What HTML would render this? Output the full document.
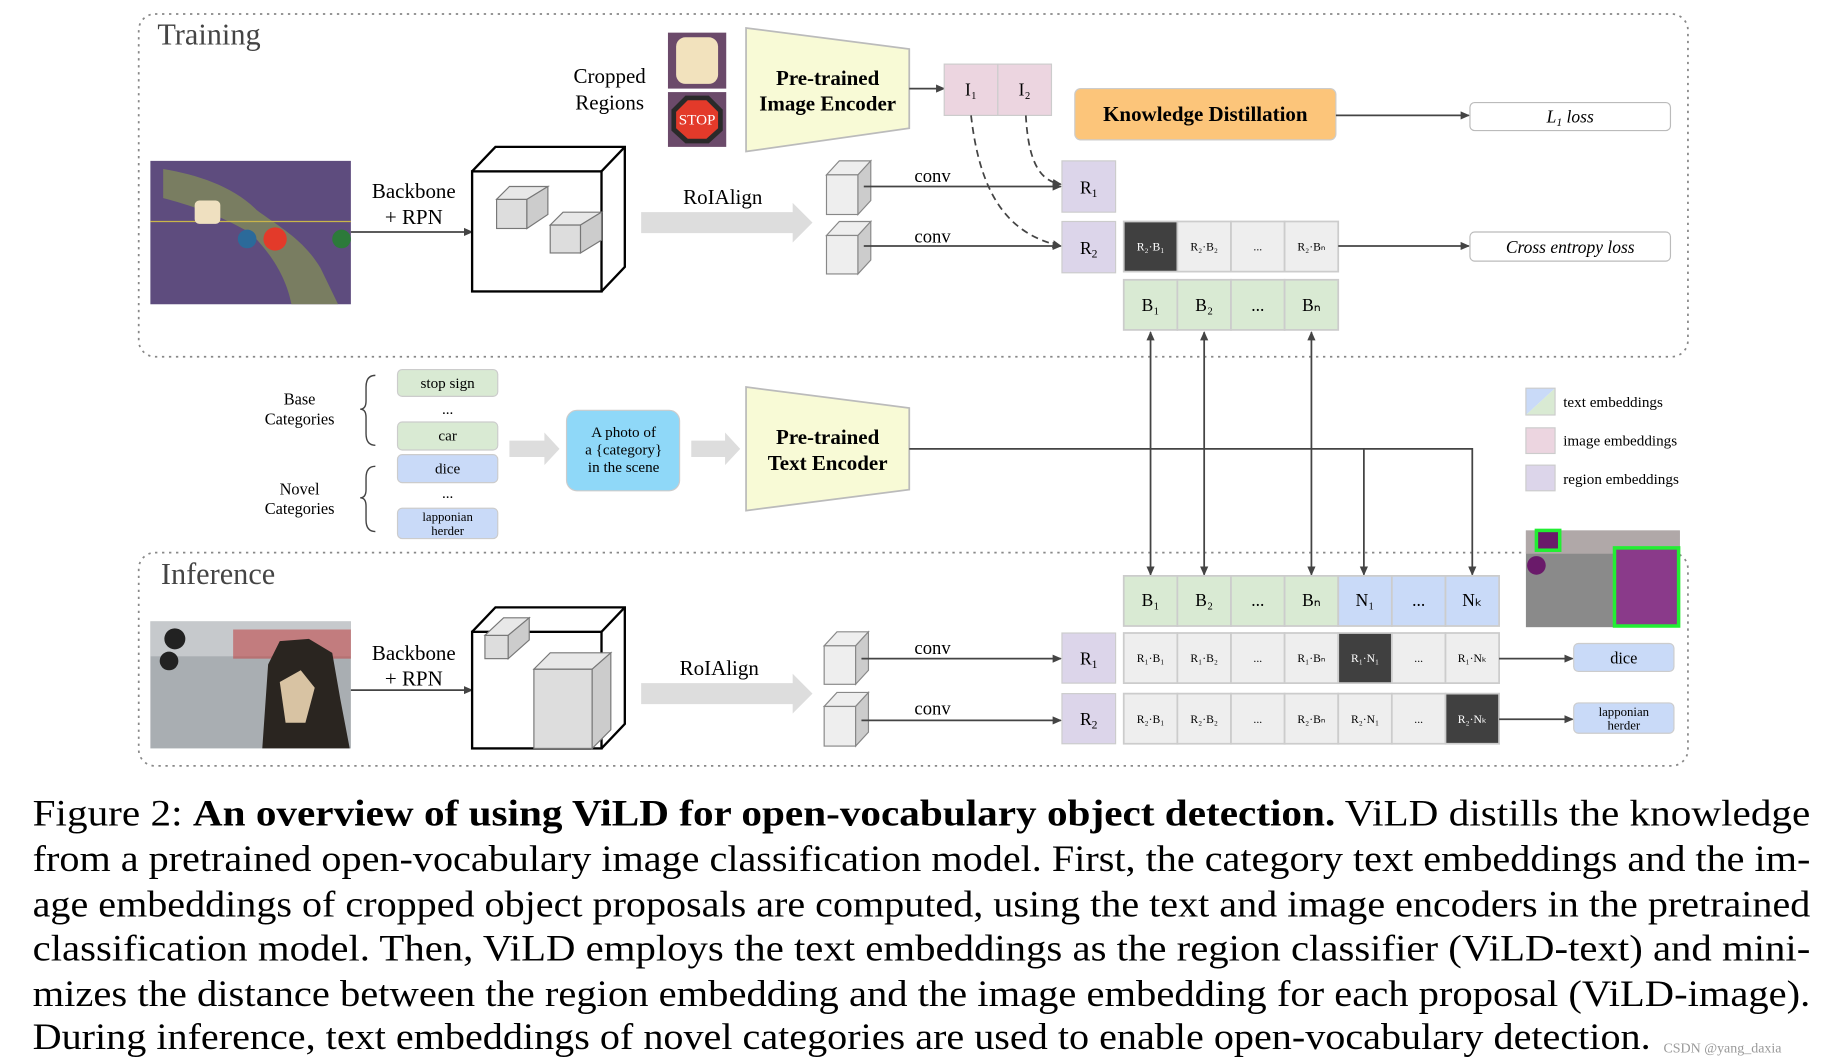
<!DOCTYPE html>
<html><head><meta charset="utf-8"><style>
html,body{margin:0;padding:0;background:#fff;}
svg{display:block;}
text{font-family:"Liberation Serif",serif;}
</style></head><body>
<svg width="1822" height="1062" viewBox="0 0 1563 911" preserveAspectRatio="none" xmlns="http://www.w3.org/2000/svg">
<defs>
<marker id="ah" markerWidth="8" markerHeight="8" refX="7" refY="4" orient="auto" markerUnits="userSpaceOnUse"><path d="M0,0.5 L8,4 L0,7.5 z" fill="#444"/></marker>
<marker id="ahs" markerWidth="8" markerHeight="8" refX="1" refY="4" orient="auto" markerUnits="userSpaceOnUse"><path d="M8,0.5 L0,4 L8,7.5 z" fill="#444"/></marker>
</defs>
<rect x="119" y="12" width="1329" height="294" rx="14" fill="none" stroke="#888" stroke-width="1.5" stroke-dasharray="2,4"/>
<rect x="119" y="474" width="1329" height="183" rx="14" fill="none" stroke="#888" stroke-width="1.5" stroke-dasharray="2,4"/>
<text x="135" y="38" font-size="26" fill="#444">Training</text>
<text x="138" y="501" font-size="26" fill="#444">Inference</text>

<text x="523" y="71" font-size="18" text-anchor="middle">Cropped</text>
<text x="523" y="94" font-size="18" text-anchor="middle">Regions</text>
<rect x="573" y="28" width="50" height="48" fill="#6b4a6a"/>
<rect x="580" y="32" width="36" height="40" rx="8" fill="#f2e2bd"/>
<rect x="573" y="79" width="50" height="47" fill="#6b4a6a"/>
<polygon points="588,82 608,82 620,94 620,112 608,123 588,123 576,112 576,94" fill="#2a2a2a"/>
<polygon points="590,86 606,86 616,96 616,110 606,119 590,119 580,110 580,96" fill="#e33a2a"/>
<text x="598" y="107" font-size="13" fill="#fff" text-anchor="middle" font-family="Liberation Sans">STOP</text>
<polygon points="640,24 780,42 780,110 640,130" fill="#f8fad6" stroke="#bbb" stroke-width="1.5"/>
<text x="710" y="73" font-size="18" font-weight="bold" text-anchor="middle">Pre-trained</text>
<text x="710" y="95" font-size="18" font-weight="bold" text-anchor="middle">Image Encoder</text>
<line x1="780" y1="76" x2="810" y2="76" stroke="#444" stroke-width="1.5" marker-end="url(#ah)"/>
<rect x="810" y="55" width="46" height="44" fill="#ecd5e0" stroke="#ccc"/>
<rect x="856" y="55" width="46" height="44" fill="#ecd5e0" stroke="#ccc"/>
<text x="833" y="82" font-size="15" text-anchor="middle">I₁</text>
<text x="879" y="82" font-size="15" text-anchor="middle">I₂</text>
<rect x="922" y="76" width="224" height="44" rx="5" fill="#fcc57a" stroke="#ccc"/>
<text x="1034" y="104" font-size="18" font-weight="bold" text-anchor="middle">Knowledge Distillation</text>
<line x1="1146" y1="99" x2="1260" y2="99" stroke="#444" stroke-width="1.5" marker-end="url(#ah)"/>
<rect x="1261" y="88" width="172" height="24" rx="4" fill="#fff" stroke="#bbb"/>
<text x="1347" y="105" font-size="15" font-style="italic" text-anchor="middle">L<tspan font-size="10" dy="3">1</tspan><tspan dy="-3"> loss</tspan></text>

<rect x="129" y="138" width="172" height="123" fill="#5e4c7e"/>
<path d="M140,145 C170,150 200,160 220,180 C240,195 260,205 275,230 L290,261 L250,261 C245,235 230,215 215,200 C190,185 160,175 140,170 z" fill="#7f8a5a" opacity="0.8"/>
<line x1="129" y1="190" x2="301" y2="190" stroke="#c9b54a" stroke-width="1"/>
<rect x="167" y="172" width="22" height="20" rx="4" fill="#efe0c0"/>
<circle cx="212" cy="205" r="8" fill="#2b6a9a"/>
<circle cx="236" cy="205" r="10" fill="#e33a2a"/>
<circle cx="293" cy="205" r="8" fill="#2c7a3a"/>
<text x="355" y="170" font-size="18" text-anchor="middle">Backbone</text>
<text x="355" y="192" font-size="18" text-anchor="middle">+ RPN</text>
<line x1="301" y1="199" x2="405" y2="199" stroke="#444" stroke-width="1.5" marker-end="url(#ah)"/>
<g fill="none" stroke="#000" stroke-width="2">
<rect x="405" y="147" width="111" height="103" fill="#fff"/>
<polyline points="405,147 425,126 536,126 536,229 516,250"/>
<line x1="516" y1="147" x2="536" y2="126"/>
</g>
<g stroke="#777" stroke-width="1">
<rect x="426" y="171" width="26" height="25" fill="#ddd"/><polygon points="426,171 437,160 470,160 452,171" fill="#e8e8e8"/><polygon points="452,171 470,160 470,184 452,196" fill="#ccc"/>
<rect x="472" y="193" width="26" height="24" fill="#ddd"/><polygon points="472,193 483,182 516,182 498,193" fill="#e8e8e8"/><polygon points="498,193 516,182 516,206 498,217" fill="#ccc"/>
</g>
<text x="620" y="175" font-size="18" text-anchor="middle">RoIAlign</text>
<polygon points="550,182 680,182 680,174 697,191 680,208 680,200 550,200" fill="#ddd"/>
<g stroke="#888" stroke-width="1">
<polygon points="709,150 720,138 747,138 736,150" fill="#eee"/><rect x="709" y="150" width="27" height="34" fill="#eee"/><polygon points="736,150 747,138 747,172 736,184" fill="#ccc"/>
<polygon points="709,202 720,190 747,190 736,202" fill="#eee"/><rect x="709" y="202" width="27" height="33" fill="#eee"/><polygon points="736,202 747,190 747,223 736,235" fill="#ccc"/>
</g>
<text x="800" y="156" font-size="16" text-anchor="middle">conv</text>
<text x="800" y="208" font-size="16" text-anchor="middle">conv</text>
<line x1="741" y1="160" x2="910" y2="160" stroke="#444" stroke-width="1.5" marker-end="url(#ah)"/>
<line x1="741" y1="211" x2="910" y2="211" stroke="#444" stroke-width="1.5" marker-end="url(#ah)"/>
<path d="M833,99 C840,160 860,200 910,211" fill="none" stroke="#444" stroke-width="1.5" stroke-dasharray="6,4" marker-end="url(#ah)"/>
<path d="M880,99 C882,135 890,155 910,158" fill="none" stroke="#444" stroke-width="1.5" stroke-dasharray="6,4" marker-end="url(#ah)"/>
<rect x="911" y="138" width="46" height="44" fill="#dcd5ea" stroke="#ccc"/>
<rect x="911" y="190" width="46" height="44" fill="#dcd5ea" stroke="#ccc"/>
<text x="934" y="166" font-size="15" text-anchor="middle">R<tspan font-size="10" dy="3">1</tspan></text>
<text x="934" y="218" font-size="15" text-anchor="middle">R<tspan font-size="10" dy="3">2</tspan></text>
<g stroke="#ccc" stroke-width="1.5">
<rect x="964" y="190" width="46" height="43" fill="#404040"/>
<rect x="1010" y="190" width="46" height="43" fill="#eee"/>
<rect x="1056" y="190" width="46" height="43" fill="#eee"/>
<rect x="1102" y="190" width="46" height="43" fill="#eee"/>
</g>
<g font-size="10" text-anchor="middle">
<text x="987" y="215" fill="#fff">R₂·B₁</text><text x="1033" y="215">R₂·B₂</text><text x="1079" y="215">...</text><text x="1125" y="215">R₂·Bₙ</text>
</g>
<line x1="1148" y1="211" x2="1260" y2="211" stroke="#444" stroke-width="1.5" marker-end="url(#ah)"/>
<rect x="1261" y="199" width="172" height="25" rx="4" fill="#fff" stroke="#bbb"/>
<text x="1347" y="217" font-size="15" font-style="italic" text-anchor="middle">Cross entropy loss</text>
<g stroke="#ccc" stroke-width="1.5" fill="#d9ead3">
<rect x="964" y="240" width="46" height="43"/><rect x="1010" y="240" width="46" height="43"/><rect x="1056" y="240" width="46" height="43"/><rect x="1102" y="240" width="46" height="43"/>
</g>
<g font-size="15" text-anchor="middle">
<text x="987" y="267">B₁</text><text x="1033" y="267">B₂</text><text x="1079" y="267">...</text><text x="1125" y="267">Bₙ</text>
</g>

<text x="257" y="347" font-size="14" text-anchor="middle">Base</text>
<text x="257" y="364" font-size="14" text-anchor="middle">Categories</text>
<text x="257" y="424" font-size="14" text-anchor="middle">Novel</text>
<text x="257" y="441" font-size="14" text-anchor="middle">Categories</text>
<path d="M322,322 Q314,322 314,332 L314,344 Q314,351 309,351 Q314,351 314,358 L314,372 Q314,382 322,382" fill="none" stroke="#444" stroke-width="1.2"/>
<path d="M322,400 Q314,400 314,410 L314,420 Q314,427 309,427 Q314,427 314,434 L314,446 Q314,456 322,456" fill="none" stroke="#444" stroke-width="1.2"/>
<g stroke="#ccc" stroke-width="1">
<rect x="341" y="317" width="86" height="23" rx="4" fill="#d9ead3"/>
<rect x="341" y="362" width="86" height="24" rx="4" fill="#d9ead3"/>
<rect x="341" y="390" width="86" height="24" rx="4" fill="#c9daf8"/>
<rect x="341" y="436" width="86" height="26" rx="4" fill="#c9daf8"/>
</g>
<g font-size="13" text-anchor="middle">
<text x="384" y="333">stop sign</text><text x="384" y="355">...</text><text x="384" y="378">car</text><text x="384" y="406">dice</text><text x="384" y="427">...</text>
<text x="384" y="447" font-size="11">lapponian</text><text x="384" y="459" font-size="11">herder</text>
</g>
<polygon points="437,378 467,378 467,371 480,385 467,399 467,392 437,392" fill="#ddd"/>
<rect x="486" y="352" width="97" height="69" rx="9" fill="#8fd8f8" stroke="#ccc"/>
<g font-size="13" text-anchor="middle"><text x="535" y="375">A photo of</text><text x="535" y="390">a {category}</text><text x="535" y="405">in the scene</text></g>
<polygon points="593,378 622,378 622,371 635,385 622,399 622,392 593,392" fill="#ddd"/>
<polygon points="640,332 780,350 780,420 640,438" fill="#f8fad6" stroke="#bbb" stroke-width="1.5"/>
<text x="710" y="381" font-size="18" font-weight="bold" text-anchor="middle">Pre-trained</text>
<text x="710" y="403" font-size="18" font-weight="bold" text-anchor="middle">Text Encoder</text>
<polyline points="780,385 1263,385 1263,493" fill="none" stroke="#444" stroke-width="1.5" marker-end="url(#ah)"/>
<line x1="1170" y1="385" x2="1170" y2="493" stroke="#444" stroke-width="1.5" marker-end="url(#ah)"/>
<g stroke="#444" stroke-width="1.5" marker-end="url(#ah)" marker-start="url(#ahs)">
<line x1="987" y1="285" x2="987" y2="493"/><line x1="1033" y1="285" x2="1033" y2="493"/><line x1="1125" y1="285" x2="1125" y2="493"/>
</g>
<polygon points="1309,333 1334,333 1309,356" fill="#c9daf8"/><polygon points="1334,333 1334,356 1309,356" fill="#d9ead3"/>
<rect x="1309" y="333" width="25" height="23" fill="none" stroke="#ccc"/>
<rect x="1309" y="367" width="25" height="22" fill="#ecd5e0" stroke="#ccc"/>
<rect x="1309" y="399" width="25" height="22" fill="#dcd5ea" stroke="#ccc"/>
<g font-size="13"><text x="1341" y="349">text embeddings</text><text x="1341" y="382">image embeddings</text><text x="1341" y="415">region embeddings</text></g>
<rect x="1309" y="455" width="132" height="83" fill="#8a8a8a"/>
<rect x="1309" y="455" width="132" height="20" fill="#b0a8a8"/>
<rect x="1318" y="455" width="20" height="17" fill="#6a1a6a" stroke="#22ee33" stroke-width="3"/>
<rect x="1385" y="470" width="55" height="67" fill="#8a3a8a" stroke="#22ee33" stroke-width="3"/>
<circle cx="1318" cy="485" r="8" fill="#6a1a6a"/>

<rect x="129" y="533" width="172" height="109" fill="#a9aeb2"/>
<rect x="129" y="533" width="172" height="30" fill="#c6c9cc"/>
<rect x="200" y="540" width="101" height="25" fill="#c04a4a" opacity="0.6"/>
<path d="M225,642 L230,570 L240,550 L265,548 L285,560 L292,600 L300,642 z" fill="#2a2520"/>
<path d="M240,585 L258,575 L270,590 L262,620 L245,620 z" fill="#d8c3a3"/>
<circle cx="150" cy="548" r="9" fill="#222"/><circle cx="145" cy="567" r="8" fill="#222"/>
<text x="355" y="566" font-size="18" text-anchor="middle">Backbone</text>
<text x="355" y="588" font-size="18" text-anchor="middle">+ RPN</text>
<line x1="301" y1="592" x2="405" y2="592" stroke="#444" stroke-width="1.5" marker-end="url(#ah)"/>
<g fill="none" stroke="#000" stroke-width="2">
<rect x="405" y="542" width="111" height="100" fill="#fff"/>
<polyline points="405,542 425,521 536,521 536,621 516,642"/>
<line x1="516" y1="542" x2="536" y2="521"/>
</g>
<g stroke="#777" stroke-width="1">
<rect x="416" y="545" width="20" height="20" fill="#ddd"/><polygon points="416,545 432,530 454,530 436,545" fill="#e8e8e8"/><polygon points="436,545 454,530 454,549 436,565" fill="#ccc"/>
<rect x="458" y="574" width="50" height="68" fill="#ddd"/><polygon points="458,574 472,560 524,560 508,574" fill="#e8e8e8"/><polygon points="508,574 524,560 524,626 508,642" fill="#ccc"/>
</g>
<text x="617" y="579" font-size="18" text-anchor="middle">RoIAlign</text>
<polygon points="550,586 680,586 680,578 697,595 680,612 680,604 550,604" fill="#ddd"/>
<g stroke="#888" stroke-width="1">
<polygon points="707,554 718,542 745,542 734,554" fill="#eee"/><rect x="707" y="554" width="27" height="33" fill="#eee"/><polygon points="734,554 745,542 745,575 734,587" fill="#ccc"/>
<polygon points="707,606 718,594 745,594 734,606" fill="#eee"/><rect x="707" y="606" width="27" height="34" fill="#eee"/><polygon points="734,606 745,594 745,628 734,640" fill="#ccc"/>
</g>
<text x="800" y="561" font-size="16" text-anchor="middle">conv</text>
<text x="800" y="613" font-size="16" text-anchor="middle">conv</text>
<line x1="739" y1="565" x2="910" y2="565" stroke="#444" stroke-width="1.5" marker-end="url(#ah)"/>
<line x1="739" y1="618" x2="910" y2="618" stroke="#444" stroke-width="1.5" marker-end="url(#ah)"/>
<rect x="911" y="543" width="46" height="43" fill="#dcd5ea" stroke="#ccc"/>
<rect x="911" y="595" width="46" height="43" fill="#dcd5ea" stroke="#ccc"/>
<text x="934" y="570" font-size="15" text-anchor="middle">R<tspan font-size="10" dy="3">1</tspan></text>
<text x="934" y="622" font-size="15" text-anchor="middle">R<tspan font-size="10" dy="3">2</tspan></text>
<g stroke="#ccc" stroke-width="1.5">
<rect x="964" y="494" width="46" height="43" fill="#d9ead3"/><rect x="1010" y="494" width="46" height="43" fill="#d9ead3"/><rect x="1056" y="494" width="46" height="43" fill="#d9ead3"/><rect x="1102" y="494" width="46" height="43" fill="#d9ead3"/>
<rect x="1148" y="494" width="46" height="43" fill="#c9daf8"/><rect x="1194" y="494" width="46" height="43" fill="#c9daf8"/><rect x="1240" y="494" width="46" height="43" fill="#c9daf8"/>
<rect x="964" y="543" width="46" height="43" fill="#eee"/><rect x="1010" y="543" width="46" height="43" fill="#eee"/><rect x="1056" y="543" width="46" height="43" fill="#eee"/><rect x="1102" y="543" width="46" height="43" fill="#eee"/>
<rect x="1148" y="543" width="46" height="43" fill="#404040"/><rect x="1194" y="543" width="46" height="43" fill="#eee"/><rect x="1240" y="543" width="46" height="43" fill="#eee"/>
<rect x="964" y="595" width="46" height="43" fill="#eee"/><rect x="1010" y="595" width="46" height="43" fill="#eee"/><rect x="1056" y="595" width="46" height="43" fill="#eee"/><rect x="1102" y="595" width="46" height="43" fill="#eee"/>
<rect x="1148" y="595" width="46" height="43" fill="#eee"/><rect x="1194" y="595" width="46" height="43" fill="#eee"/><rect x="1240" y="595" width="46" height="43" fill="#404040"/>
</g>
<g font-size="15" text-anchor="middle">
<text x="987" y="520">B₁</text><text x="1033" y="520">B₂</text><text x="1079" y="520">...</text><text x="1125" y="520">Bₙ</text><text x="1171" y="520">N₁</text><text x="1217" y="520">...</text><text x="1263" y="520">Nₖ</text>
</g>
<g font-size="10" text-anchor="middle">
<text x="987" y="568">R₁·B₁</text><text x="1033" y="568">R₁·B₂</text><text x="1079" y="568">...</text><text x="1125" y="568">R₁·Bₙ</text><text x="1171" y="568" fill="#fff">R₁·N₁</text><text x="1217" y="568">...</text><text x="1263" y="568">R₁·Nₖ</text>
<text x="987" y="620">R₂·B₁</text><text x="1033" y="620">R₂·B₂</text><text x="1079" y="620">...</text><text x="1125" y="620">R₂·Bₙ</text><text x="1171" y="620">R₂·N₁</text><text x="1217" y="620">...</text><text x="1263" y="620" fill="#fff">R₂·Nₖ</text>
</g>
<line x1="1286" y1="565" x2="1349" y2="565" stroke="#444" stroke-width="1.5" marker-end="url(#ah)"/>
<line x1="1286" y1="617" x2="1349" y2="617" stroke="#444" stroke-width="1.5" marker-end="url(#ah)"/>
<rect x="1350" y="552" width="86" height="24" rx="4" fill="#c9daf8" stroke="#ccc"/>
<rect x="1350" y="603" width="86" height="26" rx="4" fill="#c9daf8" stroke="#ccc"/>
<text x="1393" y="569" font-size="14" text-anchor="middle">dice</text>
<text x="1393" y="614" font-size="11" text-anchor="middle">lapponian</text>
<text x="1393" y="626" font-size="11" text-anchor="middle">herder</text>

<g font-size="32">
<text x="28" y="708" textLength="1525" lengthAdjust="spacingAndGlyphs">Figure 2: <tspan font-weight="bold">An overview of using ViLD for open-vocabulary object detection.</tspan> ViLD distills the knowledge</text>
<text x="28" y="747" textLength="1525" lengthAdjust="spacingAndGlyphs">from a pretrained open-vocabulary image classification model. First, the category text embeddings and the im-</text>
<text x="28" y="786" textLength="1525" lengthAdjust="spacingAndGlyphs">age embeddings of cropped object proposals are computed, using the text and image encoders in the pretrained</text>
<text x="28" y="824" textLength="1525" lengthAdjust="spacingAndGlyphs">classification model. Then, ViLD employs the text embeddings as the region classifier (ViLD-text) and mini-</text>
<text x="28" y="863" textLength="1525" lengthAdjust="spacingAndGlyphs">mizes the distance between the region embedding and the image embedding for each proposal (ViLD-image).</text>
<text x="28" y="900" textLength="1388" lengthAdjust="spacingAndGlyphs">During inference, text embeddings of novel categories are used to enable open-vocabulary detection.</text>
</g>
<text x="1427" y="903" font-size="12" fill="#999" font-family="Liberation Sans">CSDN @yang_daxia</text>
</svg>
</body></html>
